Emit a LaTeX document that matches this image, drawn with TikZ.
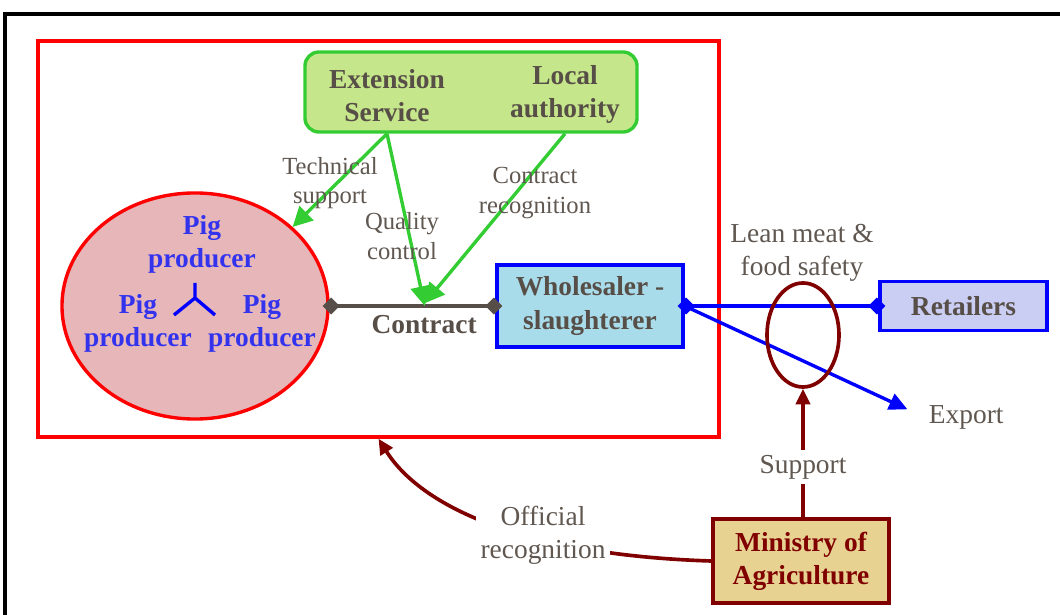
\documentclass[tikz,border=0pt]{standalone}
\usepackage{fontspec}
\setmainfont{Liberation Serif}
\usetikzlibrary{arrows.meta,shapes.geometric}
\definecolor{darkgrey}{HTML}{574E47}
\definecolor{labgrey}{HTML}{5F5750}
\definecolor{leafgreen}{HTML}{33CC33}
\definecolor{leaffill}{HTML}{C5E68A}
\definecolor{pigblue}{HTML}{3333EE}
\definecolor{pinkfill}{HTML}{E6B6B9}
\definecolor{iceblue}{HTML}{A9DCEA}
\definecolor{lavender}{HTML}{C9CEF2}
\definecolor{maroon}{HTML}{800000}
\definecolor{gold}{HTML}{E7D292}

\begin{document}
\begin{tikzpicture}[x=0.025cm,y=-0.025cm,
    boldtext/.style={font=\bfseries\fontsize{19.5}{23.5}\selectfont, align=center},
    label/.style={text=labgrey, font=\fontsize{19.5}{23.5}\selectfont, align=center},
    greenlabel/.style={text=labgrey, font=\fontsize{17.5}{21}\selectfont, align=center},
    greenarrow/.style={leafgreen, line width=2.4pt, -{Triangle[length=14pt,width=14pt]}},
    govarrow/.style={maroon, line width=2.6pt, -{Triangle[length=11pt,width=10pt]}},
    tip/.style={{Diamond[length=12pt,width=12pt]}-{Diamond[length=12pt,width=12pt]}}]
  \clip (0,0) rectangle (1060,615);
  % outer frame
  \draw[line width=2.6pt] (5,700) -- (5,14) -- (1100,14);
  % the contract chain
  \node[draw=red, line width=2.4pt, minimum width=17.025cm, minimum height=9.9cm] (chain) at (378.5,239) {};
  \node[draw=leafgreen, fill=leaffill, line width=2.4pt, rounded corners=0.35cm,
        minimum width=8.3cm, minimum height=2cm] (agencies) at (471,92) {};
  \node[boldtext, text=darkgrey] (ext) at (387,96) {Extension\\Service};
  \node[boldtext, text=darkgrey] (local) at (565,94) {Local\\authority};
  \coordinate (es) at (agencies.south -| ext);
  \coordinate (la) at (agencies.south -| local);
  % producers
  \node[ellipse, draw=red, fill=pinkfill, line width=2.4pt, inner sep=0pt,
        minimum width=6.65cm, minimum height=5.65cm] (farms) at (195,306) {};
  \node[boldtext, text=pigblue] (pig1) at (202,244) {Pig\\producer};
  \node[boldtext, text=pigblue] (pig2) at (138,323) {Pig\\producer};
  \node[boldtext, text=pigblue] (pig3) at (262,323) {Pig\\producer};
  \coordinate (hub) at (195,298);
  \draw[blue, line width=2.4pt] (hub) -- ++(0,-15) (hub) -- ++(-21,17) (hub) -- ++(20,17);
  % traders
  \node[boldtext, text=darkgrey, draw=blue, fill=iceblue, line width=2.4pt,
        minimum width=4.65cm, minimum height=2.05cm] (ws) at (590,306) {Wholesaler -\\slaughterer};
  \node[boldtext, text=darkgrey, draw=blue, fill=lavender, line width=2.4pt,
        minimum width=4.175cm, minimum height=1.225cm] (ret) at (963.5,306) {Retailers};
  \node[label, anchor=west] (exp) at (924,417) {Export};
  % contract link
  \draw[darkgrey, line width=2.4pt, tip, shorten <=-5pt, shorten >=-5pt]
    (farms.east) -- (ws.west) coordinate[pos=0.574] (meet)
    node[pos=0.57, below=2pt, boldtext, text=darkgrey] {Contract};
  \draw[greenarrow] (es) -- (farms.39);
  \draw[greenarrow] (es) -- (meet);
  \draw[greenarrow] (la) -- ([yshift=2pt]meet);
  \node[greenlabel] at (330,183) {Technical\\support};
  \node[greenlabel] at (402,236) {Quality\\control};
  \node[greenlabel] at (535,193) {Contract\\recognition};
  % market
  \draw[blue, line width=3pt, tip, shorten <=-5pt, shorten >=-5pt] (ws.east) -- (ret.west);
  \draw[blue, line width=2.4pt, -{Triangle[length=13pt,width=12pt]}, shorten >=13pt] (ws.east) -- (exp.west);
  \node[ellipse, draw=maroon, line width=2.6pt, minimum width=1.8cm, minimum height=2.6cm] (ring) at (803,335) {};
  \node[label] (lean) at (802,253) {Lean meat \&\\food safety};
  % ministry
  \node[boldtext, text=maroon, draw=maroon, fill=gold, line width=2.6pt,
        minimum width=4.4cm, minimum height=2.1cm] (moa) at (801,561) {Ministry of\\Agriculture};
  \draw[govarrow] (ring.south |- moa.north) -- (ring.south)
    node[pos=0.39, fill=white, label] {Support};
  \draw[govarrow] (moa.west) .. controls (520,555) and (420,505) .. (chain.south);
  \node[label, fill=white] (official) at (543,535) {Official\\recognition};
\end{tikzpicture}
\end{document}
